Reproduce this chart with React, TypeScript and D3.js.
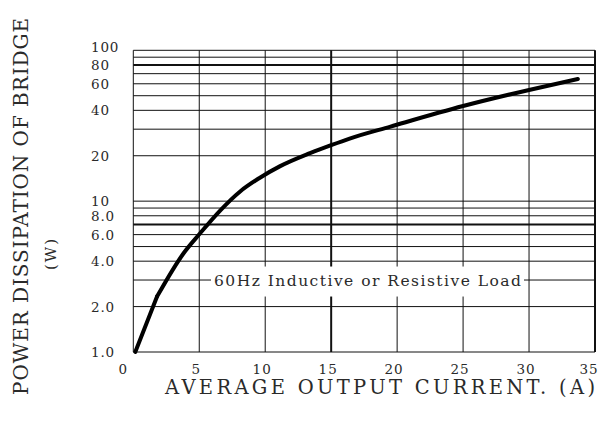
import React from "react";
import * as d3 from "d3";

const current = [0.15, 1.8, 3.8, 5.05, 6.6, 8.1, 9.6, 11.1, 13.4, 15.05, 16.4, 19.5, 25, 30, 33.7];
const power = [1.0, 2.33, 4.5, 6.1, 8.7, 11.6, 14.3, 17.0, 20.8, 23.6, 26.0, 31.2, 42.7, 54.6, 64.5];

const xTicks = [0, 5, 10, 15, 20, 25, 30, 35];
const xThick = [15, 35];
const yGrid = [1, 2, 3, 4, 5, 6, 7, 8, 9, 10, 20, 30, 40, 50, 60, 70, 80, 90, 100];
const yThick = [7, 80];
const yTickValues = [1, 2, 4, 6, 8, 10, 20, 40, 60, 80, 100];
const yTickLabels = ["1.0", "2.0", "4.0", "6.0", "8.0", "10", "20", "40", "60", "80", "100"];
const noteText = "60Hz Inductive or Resistive Load";
const noteLevel = 3;
const xTitle = "AVERAGE OUTPUT CURRENT. (A)";
const yTitle = "POWER DISSIPATION OF BRIDGE";
const yUnit = "(W)";

const FONT = "'DejaVu Serif', serif";
const INK = "#2a2a2a";

export default function App() {
  const x = d3.scaleLinear().domain([0, 35]).range([133.3, 595]);
  const y = d3.scaleLog().domain([1, 100]).range([352, 50.3]);
  const pts: [number, number][] = current.map((c, i) => [x(c), y(power[i])]);
  const straight = d3.line().curve(d3.curveLinear)(pts.slice(0, 2)) || "";
  const smooth = d3.line().curve(d3.curveMonotoneX)(pts.slice(1)) || "";

  const noteY = y(noteLevel);
  const boxX0 = 211;
  const boxX1 = 524;

  return (
    <svg
      width={600}
      height={421}
      style={{ position: "absolute", left: 0, top: 0, background: "#fff" }}
    >
      <rect x={0} y={0} width={600} height={421} fill="#fff" />
      {yGrid.map((v) => (
        <line
          key={"h" + v}
          x1={x(0)}
          x2={x(35)}
          y1={y(v)}
          y2={y(v)}
          stroke="#111"
          strokeWidth={yThick.includes(v) ? 2 : 1}
        />
      ))}
      {xTicks.map((v) => (
        <line
          key={"v" + v}
          x1={x(v)}
          x2={x(v)}
          y1={y(1)}
          y2={y(100)}
          stroke="#111"
          strokeWidth={xThick.includes(v) ? 2 : 1}
        />
      ))}
      <rect x={boxX0} y={noteY - 13.5} width={boxX1 - boxX0} height={30} fill="#fff" />
      <text
        x={214}
        y={noteY + 5.5}
        fontFamily={FONT}
        fontSize={15.5}
        textLength={307}
        lengthAdjust="spacing"
        fill={INK}
      >
        {noteText}
      </text>
      <path d={straight} fill="none" stroke="#000" strokeWidth={4} strokeLinejoin="round" strokeLinecap="round" />
      <path d={smooth} fill="none" stroke="#000" strokeWidth={4} strokeLinejoin="round" strokeLinecap="round" />
      {yTickValues.map((v, i) => (
        <text
          key={"yl" + v}
          x={91}
          y={y(v) + 5 - (v === 100 ? 3 : 0)}
          fontFamily={FONT}
          fontSize={13.5}
          letterSpacing={0.8}
          fill={INK}
        >
          {yTickLabels[i]}
        </text>
      ))}
      {xTicks.map((v) => (
        <text
          key={"xl" + v}
          x={x(v) - (v === 0 ? 10 : v === 35 ? 6 : 3)}
          y={374}
          textAnchor="middle"
          fontFamily={FONT}
          fontSize={13.5}
          letterSpacing={1}
          fill={INK}
        >
          {v}
        </text>
      ))}
      <text
        x={165}
        y={394}
        fontFamily={FONT}
        fontSize={19.5}
        textLength={430}
        lengthAdjust="spacing"
        fill={INK}
      >
        {xTitle}
      </text>
      <text
        transform="translate(28,395) rotate(-90)"
        fontFamily={FONT}
        fontSize={20}
        textLength={377}
        lengthAdjust="spacing"
        fill={INK}
      >
        {yTitle}
      </text>
      <text
        transform="translate(56,270) rotate(-90)"
        fontFamily={FONT}
        fontSize={15}
        letterSpacing={2}
        fill={INK}
      >
        {yUnit}
      </text>
    </svg>
  );
}
